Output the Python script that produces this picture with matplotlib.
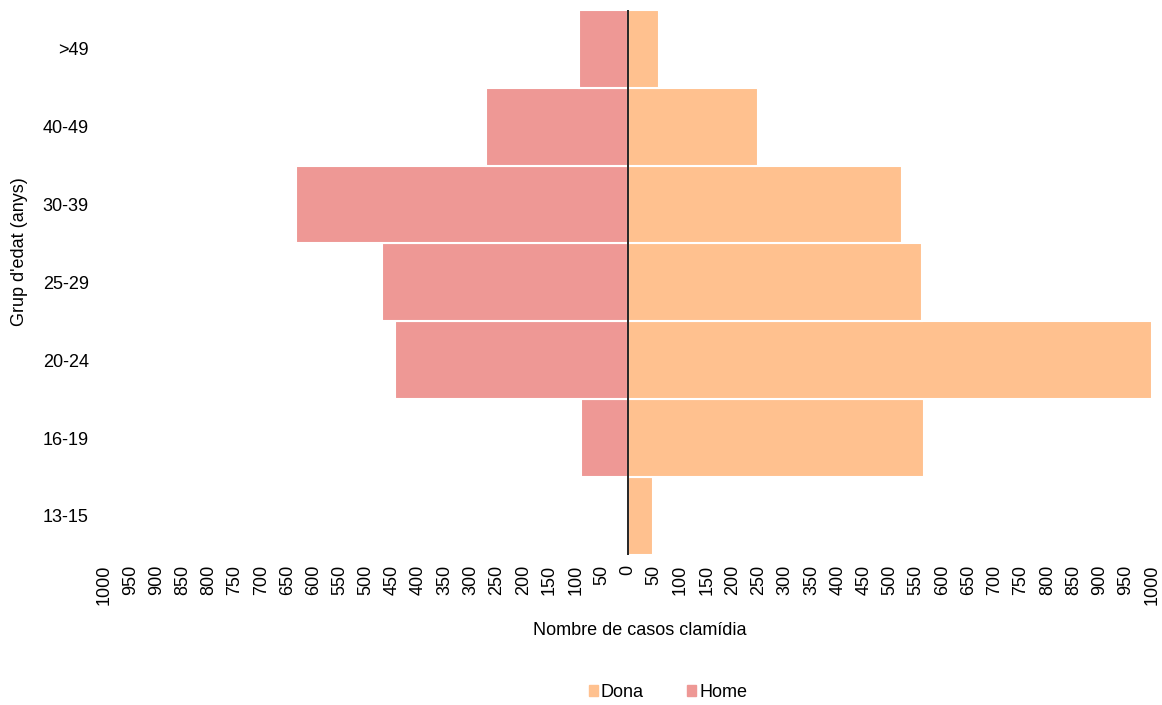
import matplotlib; matplotlib.use("Agg")
import matplotlib.pyplot as plt
from matplotlib.ticker import FuncFormatter, MultipleLocator
import matplotlib.patches as mpatches
import numpy as np

plt.rcParams["font.family"] = ["Liberation Sans", "DejaVu Sans"]

# age groups, bottom to top
grups = ["13-15", "16-19", "20-24", "25-29", "30-39", "40-49", ">49"]
dona = [48, 565, 1000, 561, 523, 248, 59]
home = [0, 90, 445, 469, 633, 271, 93]

COL_DONA = "#FFC18F"
COL_HOME = "#EE9895"

fig = plt.figure(figsize=(11.62, 7.05), dpi=100)
ax = fig.add_axes([0.0895, 0.213, 0.902, 0.773])

y = np.arange(len(grups))
ax.barh(y, dona, height=1.0, color=COL_DONA, edgecolor="white", linewidth=1.5)
ax.barh(y, [-v for v in home], height=1.0, color=COL_HOME, edgecolor="white", linewidth=1.5)
ax.axvline(0, color="black", linewidth=1.2)

ax.set_xlim(-1000, 1000)
ax.set_ylim(-0.5, len(grups) - 0.5)
ax.xaxis.set_major_locator(MultipleLocator(50))
ax.xaxis.set_major_formatter(FuncFormatter(lambda v, p: f"{abs(int(round(v)))}"))
ax.set_yticks(y)
ax.set_yticklabels(grups)
ax.tick_params(axis="x", length=0, labelsize=13, rotation=90, pad=7)
ax.tick_params(axis="y", length=0, labelsize=13, pad=11)
for s in ax.spines.values():
    s.set_visible(False)

ax.set_xlabel("Nombre de casos clamídia", fontsize=13)
ax.set_ylabel("Grup d'edat (anys)", fontsize=13)
ax.xaxis.set_label_coords(0.511, -0.123)
ax.yaxis.set_label_coords(-0.0725, 0.556)

handles = [mpatches.Patch(color=COL_DONA, label="Dona"),
           mpatches.Patch(color=COL_HOME, label="Home")]
fig.legend(handles=handles, loc="center", bbox_to_anchor=(0.575, 0.018),
           ncol=2, frameon=False, fontsize=13, handlelength=0.5,
           handleheight=0.5, handletextpad=0.15, columnspacing=2.4)

fig.savefig("out.png", dpi=100)
